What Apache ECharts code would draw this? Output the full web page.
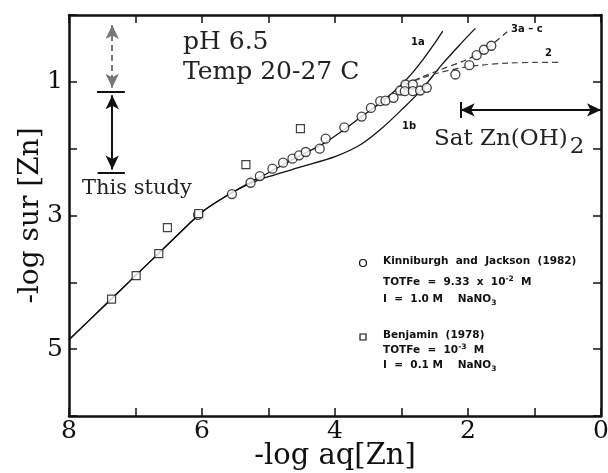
<!DOCTYPE html>
<html>
<head>
<meta charset="utf-8">
<script src="https://cdn.jsdelivr.net/npm/echarts@6/dist/echarts.min.js"></script>
<style>
  html, body { margin: 0; padding: 0; background: #fff; }
  #chart { width: 608px; height: 473px; }
</style>
</head>
<body>
<div id="chart"></div>
<script>
// Kinniburgh and Jackson (1982): [-log aq, -log sur]
const kinniburgh = [
  [6.06, 2.99], [5.55, 2.68], [5.27, 2.51], [5.13, 2.41], [4.94, 2.30], [4.78, 2.21],
  [4.64, 2.15], [4.54, 2.10], [4.44, 2.05], [4.23, 2.00], [4.14, 1.85], [3.86, 1.68],
  [3.60, 1.52], [3.46, 1.39], [3.32, 1.29], [3.24, 1.28], [3.12, 1.24], [3.02, 1.13],
  [2.94, 1.04], [2.83, 1.04], [2.95, 1.14], [2.83, 1.14], [2.72, 1.13], [2.62, 1.09],
  [2.19, 0.89], [1.98, 0.75], [1.87, 0.60], [1.76, 0.52], [1.65, 0.46]
]
// Benjamin (1978)
const benjamin = [
  [7.36, 4.25], [6.99, 3.90], [6.65, 3.57], [6.52, 3.18], [6.05, 2.97], [5.34, 2.24], [4.52, 1.70]
]
// model curves
const commonPart = [[8, 4.86], [7.5, 4.38], [7, 3.90], [6.5, 3.42], [6.2, 3.13], [6.0, 2.95], [5.8, 2.81]]
const curve1a = commonPart.concat([
  [5.55, 2.66], [5.27, 2.50], [5.0, 2.36], [4.5, 2.09], [4.2, 1.94], [3.9, 1.74], [3.6, 1.52],
  [3.3, 1.30], [3.05, 1.09], [2.85, 0.88], [2.68, 0.67], [2.5, 0.42], [2.38, 0.24]
])
const curve1b = commonPart.concat([
  [5.5, 2.63], [5.2, 2.49], [5.0, 2.42], [4.5, 2.27], [4.0, 2.12], [3.6, 1.93], [3.3, 1.70],
  [3.0, 1.42], [2.7, 1.12], [2.4, 0.75], [2.1, 0.42], [1.89, 0.20]
])
const curve3 = [[2.95, 1.04], [2.72, 0.94], [2.42, 0.82], [2.02, 0.67], [1.87, 0.59], [1.65, 0.45], [1.41, 0.25]]
const curve2 = [[2.95, 1.04], [2.72, 0.95], [2.42, 0.86], [2.1, 0.79], [1.8, 0.75], [1.4, 0.72], [1.0, 0.71], [0.62, 0.71]]

const xTicks = [8, 6, 4, 2, 0]
const yTicks = [1, 3, 5]

// annotation arrows (data units)
const studyX = 7.35
const studyCaps = [1.15, 2.36]
const studyRange = [1.2, 2.31]
const upperRange = [0.15, 1.09]
const satY = 1.42
const satRange = [2.11, 0]

const serif = 'DejaVu Serif'
const sans = 'DejaVu Sans'
const ink = '#111'

const chart = echarts.init(document.getElementById('chart'))

const baseAxis = {
  min: 0,
  inverse: true,
  interval: 1,
  axisLine: { show: true, onZero: false, lineStyle: { color: ink, width: 2.5 } },
  axisTick: { show: true, inside: true, length: 8, lineStyle: { color: ink, width: 1.5 } },
  splitLine: { show: false }
}

const hLine = (x0, x1, y) => [{ coord: [x0, y], symbol: 'none' }, { coord: [x1, y], symbol: 'none' }]
const legendFont = `bold 10.5px "${sans}"`
const subRich = { fontFamily: sans, fontWeight: 'bold', fontSize: 7.5, padding: [7, 0, 0, 0], fill: ink }
const supRich = { fontFamily: sans, fontWeight: 'bold', fontSize: 7.5, padding: [0, 0, 7, 0], fill: ink }

chart.setOption({
  animation: false,
  grid: { left: 69, right: 7, top: 15, bottom: 57, outerBoundsMode: 'none', containLabel: false },
  xAxis: [
    {
      ...baseAxis, type: 'value', max: 8, position: 'bottom',
      name: '-log aq[Zn]', nameLocation: 'middle', nameGap: 26, nameMoveOverlap: false,
      nameTextStyle: { fontFamily: serif, fontSize: 29, color: ink },
      axisLabel: {
        fontFamily: serif, fontSize: 25, color: ink, margin: 3,
        formatter: (v) => (xTicks.includes(v) ? String(v) : '')
      }
    },
    { ...baseAxis, type: 'value', max: 8, position: 'top', axisLabel: { show: false } }
  ],
  yAxis: [
    {
      ...baseAxis, type: 'value', max: 6, position: 'left',
      name: '-log sur [Zn]', nameLocation: 'middle', nameGap: 24, nameRotate: 90, nameMoveOverlap: false,
      nameTextStyle: { fontFamily: serif, fontSize: 28, color: ink },
      axisLabel: {
        fontFamily: serif, fontSize: 25, color: ink, margin: 6,
        formatter: (v) => (yTicks.includes(v) ? String(v) : '')
      }
    },
    { ...baseAxis, type: 'value', max: 6, position: 'right', axisLabel: { show: false } }
  ],
  series: [
    {
      type: 'line', data: curve1a, smooth: 0.3, showSymbol: false,
      lineStyle: { color: ink, width: 1.3 }, z: 2
    },
    {
      type: 'line', data: curve1b, smooth: 0.3, showSymbol: false,
      lineStyle: { color: ink, width: 1.3 }, z: 2
    },
    {
      type: 'line', data: curve3, smooth: 0.3, showSymbol: false,
      lineStyle: { color: '#333', width: 1.2, type: [6, 4] }, z: 2
    },
    {
      type: 'line', data: curve2, smooth: 0.3, showSymbol: false,
      lineStyle: { color: '#444', width: 1.2, type: [6, 4] }, z: 2
    },
    {
      type: 'scatter', data: kinniburgh, symbol: 'circle', symbolSize: 9,
      itemStyle: { color: '#fff', borderColor: ink, borderWidth: 1.3 }, z: 3
    },
    {
      type: 'scatter', data: benjamin, symbol: 'rect', symbolSize: 8,
      itemStyle: { color: '#fff', borderColor: ink, borderWidth: 1.2 }, z: 3
    },
    {
      type: 'scatter', data: [], silent: true,
      markLine: {
        silent: true, symbol: ['arrow', 'arrow'], symbolSize: [10, 14],
        label: { show: false },
        lineStyle: { color: ink, width: 2, type: 'solid' },
        data: [
          [{ coord: [studyX, studyRange[0]] }, { coord: [studyX, studyRange[1]] }],
          hLine(7.58, 7.16, studyCaps[0]),
          hLine(7.57, 7.16, studyCaps[1]),
          [{ coord: [satRange[0], satY] }, { coord: [satRange[1], satY] }],
          [{ coord: [satRange[0], satY - 0.12], symbol: 'none' }, { coord: [satRange[0], satY + 0.12], symbol: 'none' }],
          [
            { coord: [studyX, upperRange[0]], lineStyle: { color: '#777', type: [6, 4] }, itemStyle: { color: '#777' } },
            { coord: [studyX, upperRange[1]] }
          ]
        ]
      }
    }
  ],
  graphic: [
    { type: 'text', left: 183, top: 30, style: { text: 'pH 6.5', font: `25px "${serif}"`, fill: '#222' } },
    { type: 'text', left: 183, top: 60, style: { text: 'Temp 20-27 C', font: `25px "${serif}"`, fill: '#222' } },
    { type: 'text', left: 82, top: 178, style: { text: 'This study', font: `21px "${serif}"`, fill: '#222' } },
    {
      type: 'text', left: 434, top: 128,
      style: {
        text: 'Sat Zn(OH){sub|2}', font: `23px "${serif}"`, fill: '#222',
        rich: { sub: { fontFamily: serif, fontSize: 23, padding: [16, 0, 0, 2], fill: '#222' } }
      }
    },
    { type: 'text', left: 411, top: 37, style: { text: '1a', font: `bold 10px "${sans}"`, fill: ink } },
    { type: 'text', left: 402, top: 121, style: { text: '1b', font: `bold 10px "${sans}"`, fill: ink } },
    { type: 'text', left: 511, top: 24, style: { text: '3a – c', font: `bold 10px "${sans}"`, fill: ink } },
    { type: 'text', left: 545, top: 48, style: { text: '2', font: `bold 10px "${sans}"`, fill: ink } },
    { type: 'circle', shape: { cx: 363, cy: 263, r: 3.5 }, style: { fill: '#fff', stroke: ink, lineWidth: 1.2 } },
    { type: 'rect', shape: { x: 360, y: 334, width: 6, height: 6 }, style: { fill: '#fff', stroke: ink, lineWidth: 1.2 } },
    {
      type: 'text', left: 383, top: 256,
      style: { text: 'Kinniburgh  and  Jackson  (1982)', font: legendFont, fill: ink }
    },
    {
      type: 'text', left: 383, top: 275,
      style: { text: 'TOTFe  =  9.33  x  10{sup|-2}  M', font: legendFont, fill: ink, rich: { sup: supRich } }
    },
    {
      type: 'text', left: 383, top: 294,
      style: { text: 'I  =  1.0 M    NaNO{sub|3}', font: legendFont, fill: ink, rich: { sub: subRich } }
    },
    {
      type: 'text', left: 383, top: 330,
      style: { text: 'Benjamin  (1978)', font: legendFont, fill: ink }
    },
    {
      type: 'text', left: 383, top: 343,
      style: { text: 'TOTFe  =  10{sup|-3}  M', font: legendFont, fill: ink, rich: { sup: supRich } }
    },
    {
      type: 'text', left: 383, top: 360,
      style: { text: 'I  =  0.1 M    NaNO{sub|3}', font: legendFont, fill: ink, rich: { sub: subRich } }
    }
  ]
})
</script>
</body>
</html>
